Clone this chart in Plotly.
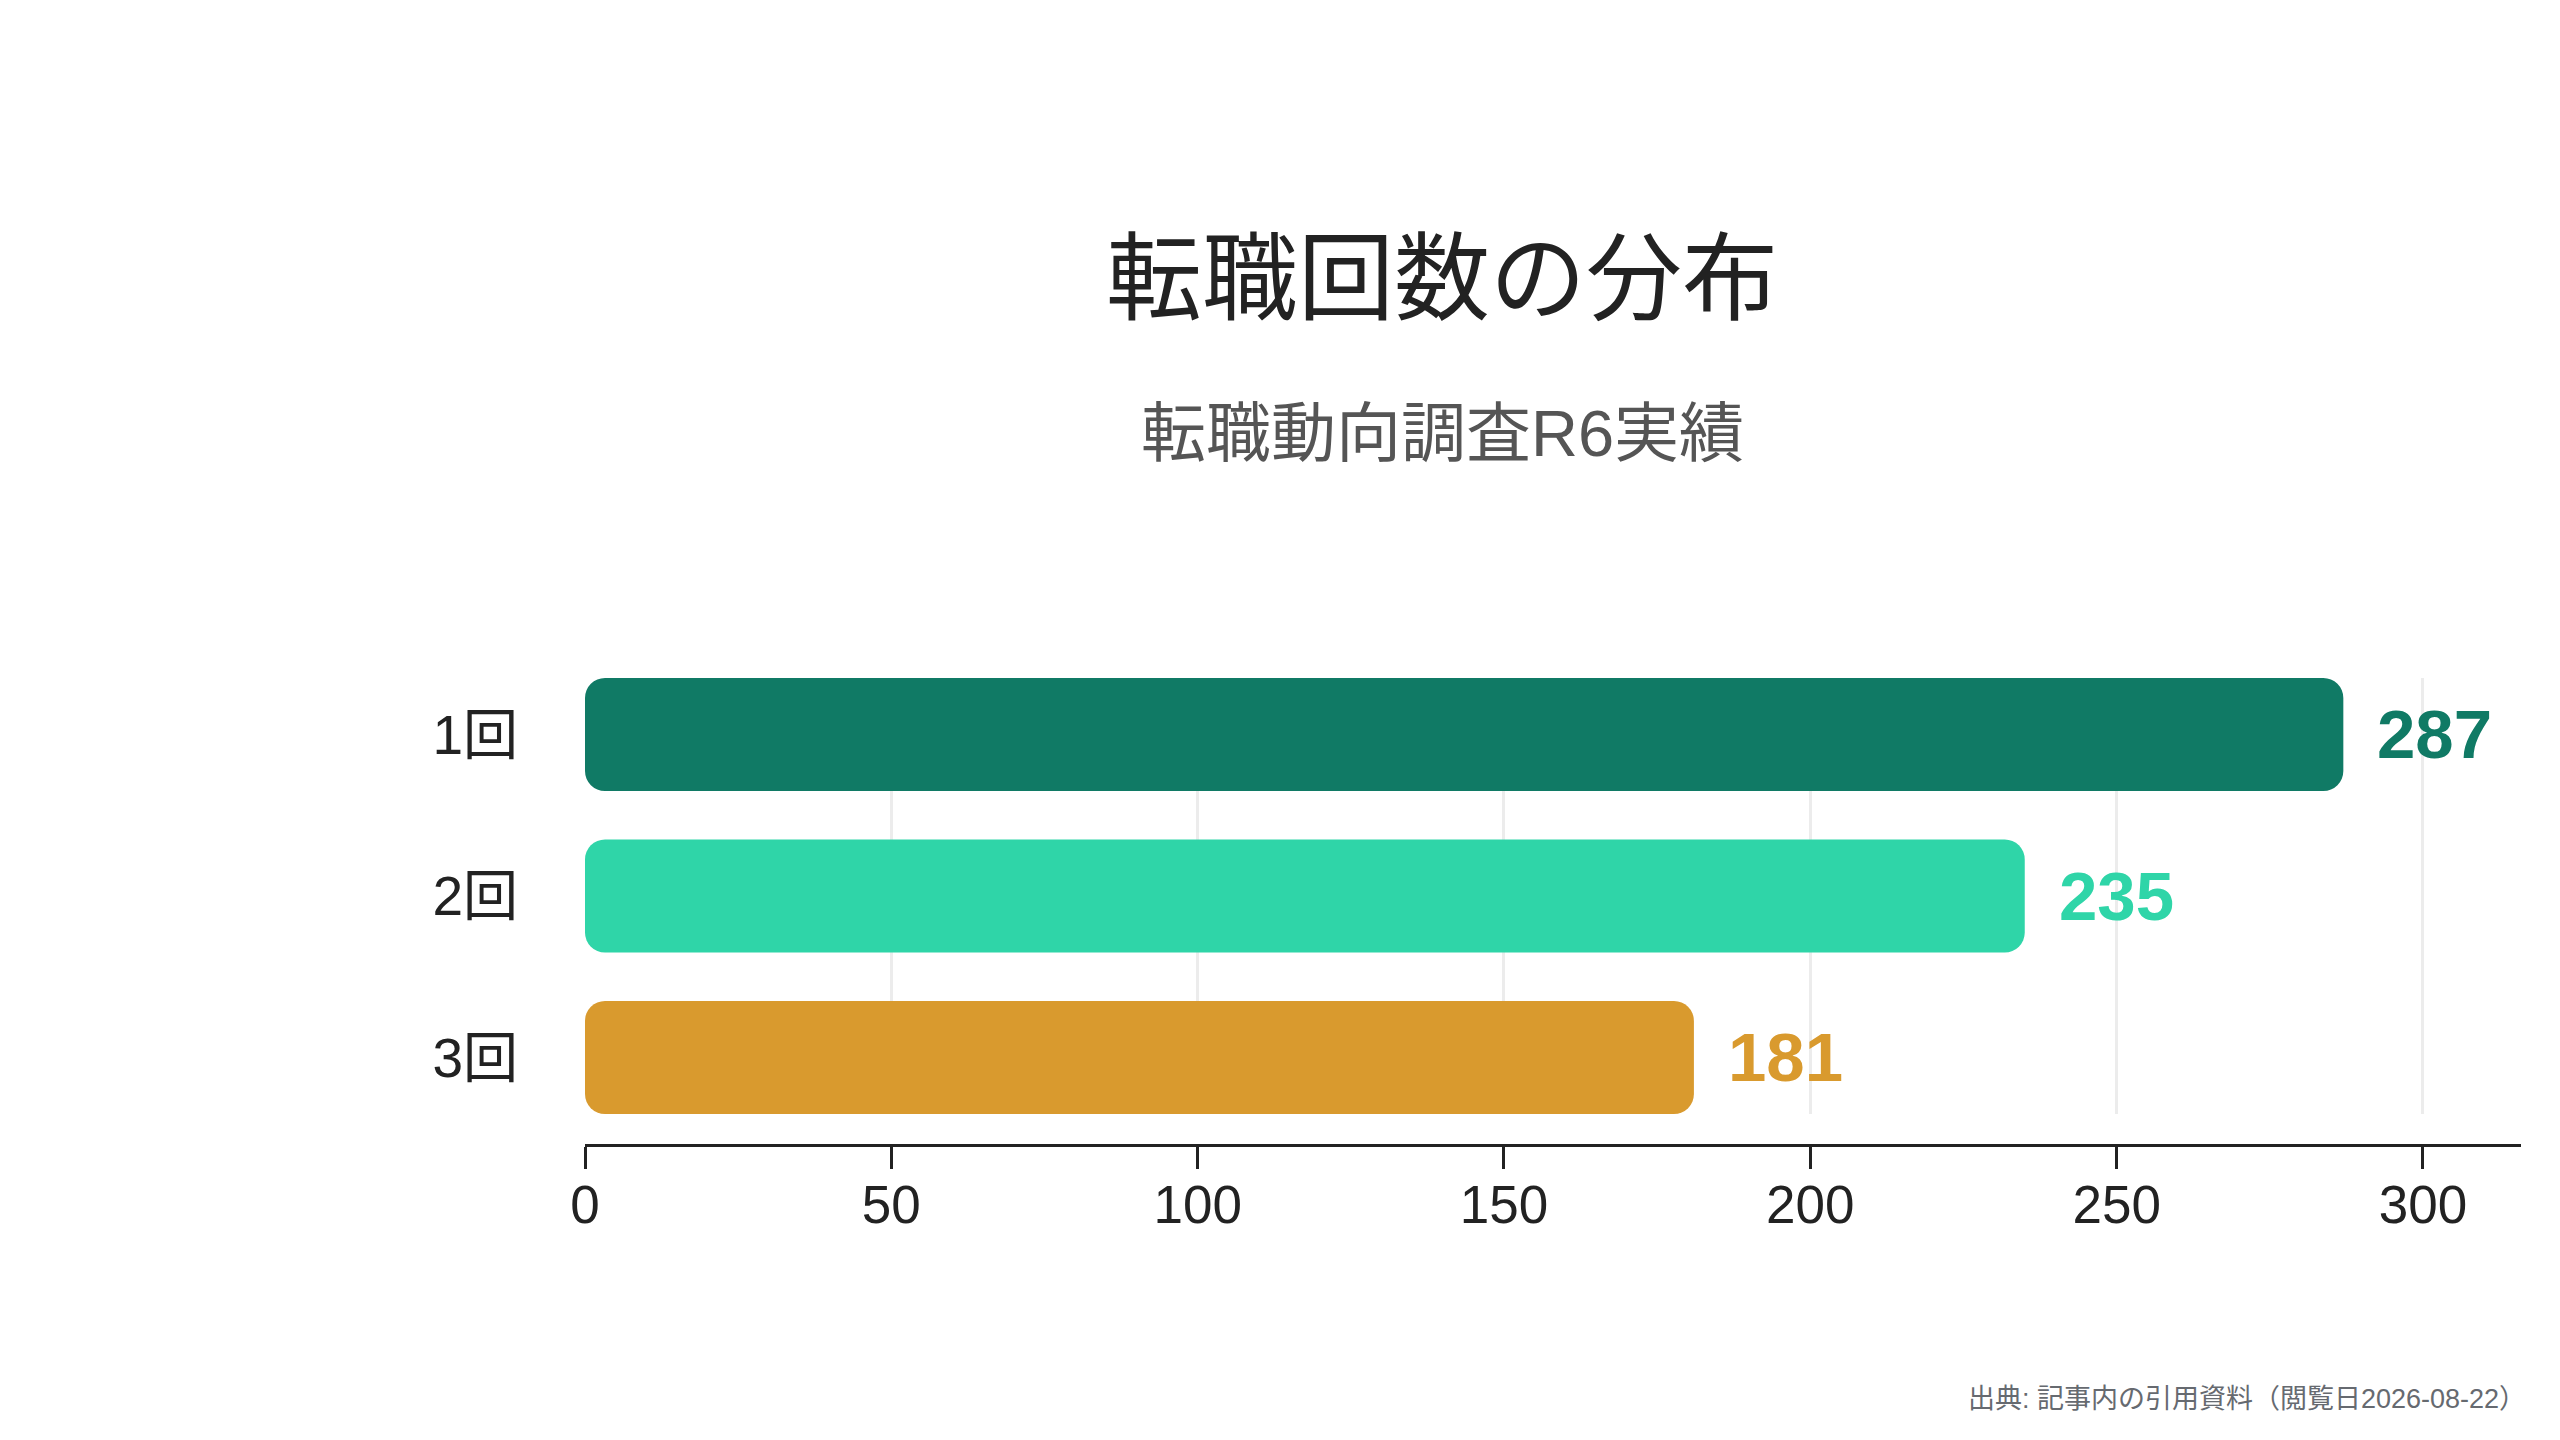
import plotly.graph_objects as go

# Chart data
categories = ["1回", "2回", "3回"]
values = [287, 235, 181]
bar_colors = ["#107a65", "#2fd5a8", "#d99a2e"]

title_text = "転職回数の分布"
subtitle_text = "転職動向調査R6実績"
source_text = "出典: 記事内の引用資料（閲覧日2026-08-22）"

FONT = "Liberation Sans, Noto Sans CJK JP, sans-serif"

fig = go.Figure()

# setting base explicitly makes plotly round both ends of the bar
fig.add_trace(go.Bar(
    y=categories, x=values, base=0, orientation='h', width=0.7,
    marker=dict(color=bar_colors, cornerradius=20, line=dict(width=0)),
    showlegend=False, hovertemplate="%{y}: %{x}<extra></extra>"))

# value labels to the right of the bars
for i, (val, col) in enumerate(zip(values, bar_colors)):
    fig.add_annotation(x=val, y=i, xref='x', yref='y', text=f"<b>{val}</b>",
                       showarrow=False, xanchor='left', yanchor='middle', xshift=32,
                       font=dict(family=FONT, size=69, color=col))

# Subtitle and source note
fig.add_annotation(x=0.4427, y=1.5225, xref='paper', yref='paper', text=subtitle_text,
                   showarrow=False, xanchor='center', yanchor='middle',
                   font=dict(family=FONT, size=65, color="#555555"))
fig.add_annotation(x=1.0037, y=-0.5439, xref='paper', yref='paper', text=source_text,
                   showarrow=False, xanchor='right', yanchor='middle',
                   font=dict(family=FONT, size=27, color="#666a70"))

# page has an 8px body margin, so the figure is a little smaller than the window
fig.update_layout(
    width=2552, height=1432,
    paper_bgcolor='white', plot_bgcolor='white',
    font=dict(family=FONT, color="#222222"),
    margin=dict(l=577, r=39, t=670, b=295, pad=0),
    title=dict(text=title_text, x=0.5619, xanchor='center', y=0.8115, yanchor='middle',
               font=dict(family=FONT, size=96, color="#222222")),
    xaxis=dict(range=[0, 316], dtick=50, tick0=0, anchor='free', position=0,
               showline=True, linecolor="#222222", linewidth=3,
               ticks='outside', ticklen=22, tickwidth=3, tickcolor="#222222",
               ticklabelstandoff=-10,
               showgrid=True, gridcolor="#ececec", gridwidth=3, zeroline=False,
               tickfont=dict(family=FONT, size=53, color="#222222")),
    yaxis=dict(domain=[0.0664, 1], type='category', categoryorder='array',
               categoryarray=categories, range=[2.35, -0.35],
               showline=False, showgrid=False, zeroline=False, ticks='',
               ticklabelstandoff=66,
               tickfont=dict(family=FONT, size=55, color="#222222")),
)

fig.write_html("out.html")
